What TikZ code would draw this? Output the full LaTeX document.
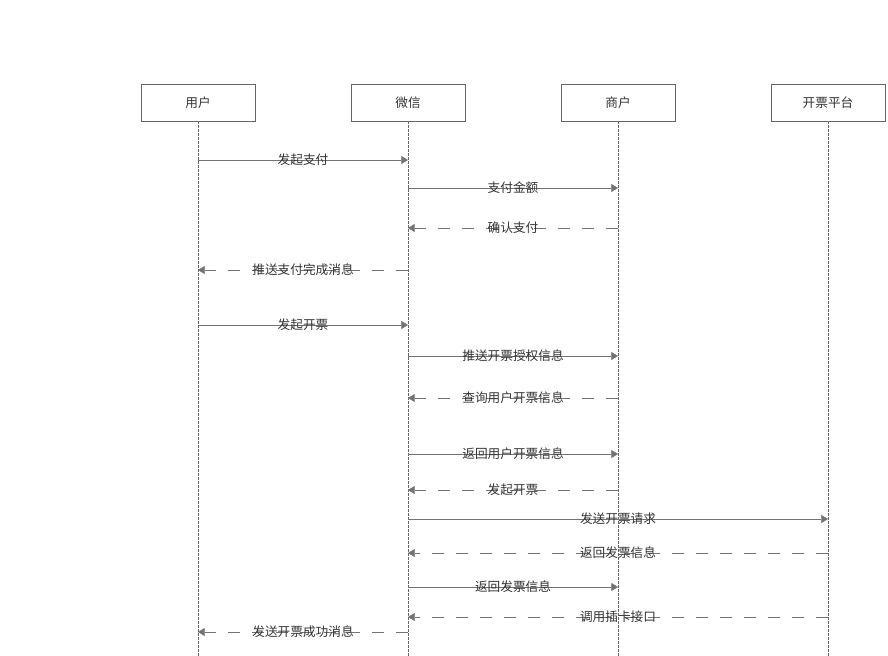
\documentclass[tikz,border=0pt]{standalone}
\usepackage{fontspec}
\setmainfont{Noto Sans CJK SC}
\usetikzlibrary{arrows.meta}
\tikzset{
    actor-box/.style = {draw=black!60, fill=white, minimum width=85.5pt, minimum height=27.75pt, font=\fontsize{9.5}{11}\selectfont, text=black!80},
    life-line/.style = {draw=black!60, dash pattern=on 2pt off 1pt, thin},
    msg/.style = {draw=black!55, thin, -{Triangle[length=5pt,width=6pt]}},
    reply/.style = {msg, dash pattern=on 9pt off 9pt},
    msg-label/.style = {font=\fontsize{9.5}{11}\selectfont, text=black!80, inner sep=1pt},
}
\begin{document}
\begin{tikzpicture}[x=0.75pt, y=-0.75pt]
\useasboundingbox (0,0) rectangle (888,656);
% actors
\foreach \name/\x/\txt in {user/198/用户, wx/408/微信, shop/618/商户, inv/828/开票平台} {
    \node[actor-box] (\name) at (\x,102.5) {\txt};
    \coordinate (\name-end) at (\x,656);
    \draw[life-line] (\name.south) -- (\name-end);
}
% messages
\foreach \from/\to/\y/\style/\txt in {
    user/wx/160/msg/发起支付,
    wx/shop/188/msg/支付金额,
    shop/wx/228/reply/确认支付,
    wx/user/270/reply/推送支付完成消息,
    user/wx/325/msg/发起开票,
    wx/shop/356/msg/推送开票授权信息,
    shop/wx/398/reply/查询用户开票信息,
    wx/shop/454/msg/返回用户开票信息,
    shop/wx/490/reply/发起开票,
    wx/inv/519/msg/发送开票请求,
    inv/wx/553/reply/返回发票信息,
    wx/shop/587/msg/返回发票信息,
    inv/wx/617/reply/调用插卡接口,
    wx/user/632/reply/发送开票成功消息} {
    \coordinate (a) at (\from |- 0,\y);
    \coordinate (b) at (\to |- 0,\y);
    \draw[\style] (a) -- (b) node[midway, msg-label] {\txt};
}
\end{tikzpicture}
\end{document}
